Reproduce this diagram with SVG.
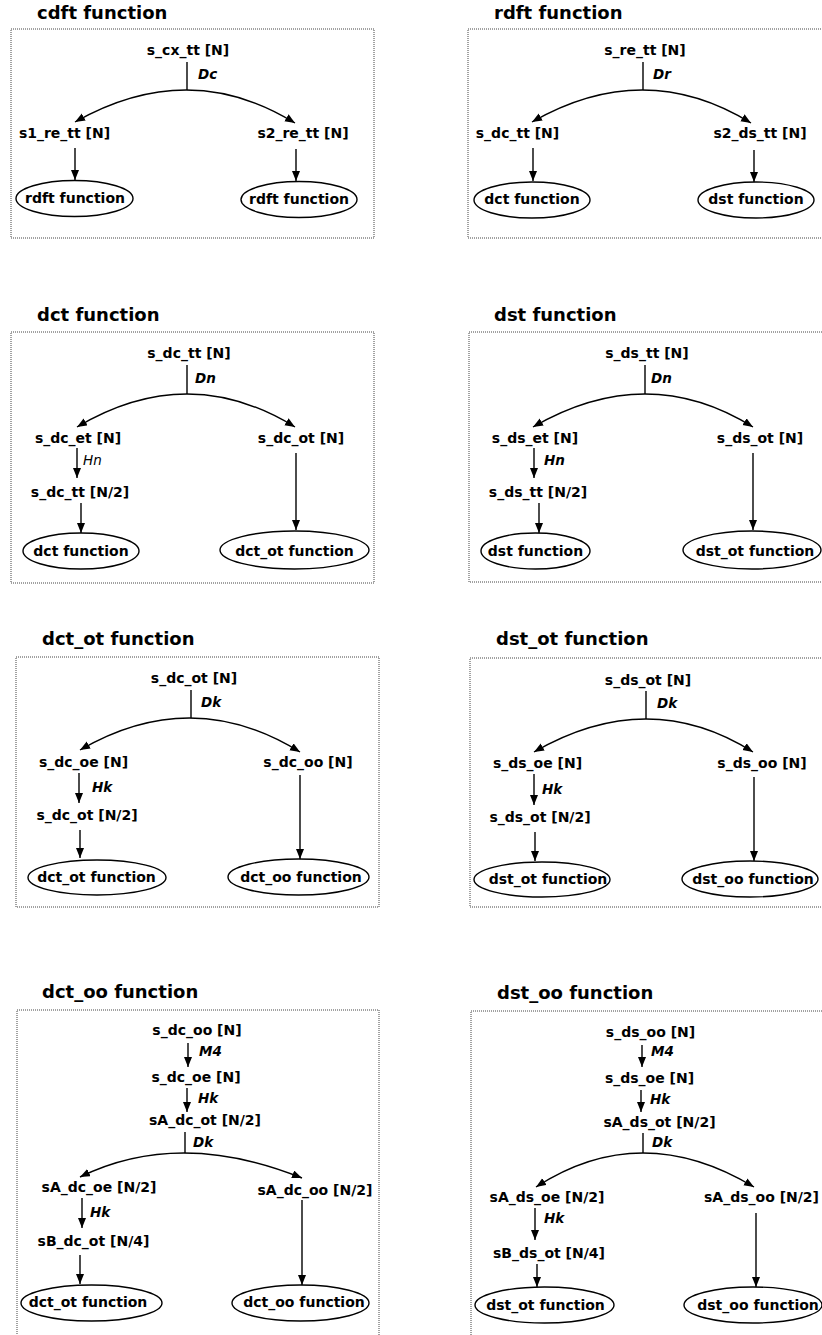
<svg xmlns="http://www.w3.org/2000/svg" width="822" height="1335" viewBox="0 0 822 1335">
<style>
.bg{fill:#fff}
.title{font-family:"DejaVu Sans",sans-serif;font-weight:bold;font-size:18px;fill:#000}
.lbl{font-family:"DejaVu Sans",sans-serif;font-weight:bold;font-size:14px;fill:#000;text-anchor:middle}
.lbls{font-family:"DejaVu Sans",sans-serif;font-weight:bold;font-size:14px;fill:#000}
.op{font-family:"DejaVu Sans",sans-serif;font-weight:bold;font-style:oblique;font-size:13.5px;fill:#000}
.opn{font-family:"DejaVu Sans",sans-serif;font-weight:normal;font-style:oblique;font-size:13.5px;fill:#000}
.box{fill:none;stroke:#444;stroke-width:1;stroke-dasharray:1 1}
.ell{fill:#fff;stroke:#000;stroke-width:1.4}
.ln{fill:none;stroke:#000;stroke-width:1.4}
.arr{fill:none;stroke:#000;stroke-width:1.4;marker-end:url(#ah)}
.arc{fill:none;stroke:#000;stroke-width:1.4;marker-start:url(#ah);marker-end:url(#ah)}
</style>
<defs>
<marker id="ah" markerUnits="userSpaceOnUse" markerWidth="11" markerHeight="9" refX="10" refY="4" orient="auto-start-reverse">
<path d="M0,0 L10,4 L0,8 z" fill="#000"/>
</marker>
</defs>
<rect class="bg" x="0" y="0" width="822" height="1335"/>

<!-- titles and boxes -->
<g id="panel-cdft">
<text class="title" x="37" y="19">cdft function</text>
<rect class="box" x="11" y="29" width="363" height="209"/>
</g>
<g id="panel-rdft">
<text class="title" x="494" y="19">rdft function</text>
<rect class="box" x="468" y="29" width="400" height="209"/>
</g>
<g id="panel-dct">
<text class="title" x="37" y="321">dct function</text>
<rect class="box" x="11" y="332" width="363" height="251"/>
</g>
<g id="panel-dst">
<text class="title" x="494" y="321">dst function</text>
<rect class="box" x="469" y="332" width="400" height="250"/>
</g>
<g id="panel-dct_ot">
<text class="title" x="42" y="645">dct_ot function</text>
<rect class="box" x="16" y="657" width="363" height="250"/>
</g>
<g id="panel-dst_ot">
<text class="title" x="496" y="645">dst_ot function</text>
<rect class="box" x="470" y="658" width="400" height="249"/>
</g>
<g id="panel-dct_oo">
<text class="title" x="42" y="998">dct_oo function</text>
<rect class="box" x="17" y="1010" width="362" height="340"/>
</g>
<g id="panel-dst_oo">
<text class="title" x="497" y="999">dst_oo function</text>
<rect class="box" x="471" y="1011" width="400" height="340"/>
</g>

<!-- connectors -->
<g id="connectors">
<!-- cdft -->
<line class="ln" x1="187" y1="62" x2="187" y2="90"/>
<path class="arc" d="M75,122 Q189,57.5 295,123"/>
<line class="arr" x1="75" y1="148" x2="75" y2="180"/>
<line class="arr" x1="296" y1="149" x2="296" y2="181"/>
<!-- rdft -->
<line class="ln" x1="643" y1="62" x2="643" y2="90"/>
<path class="arc" d="M532,122 Q644.5,57.5 751,123"/>
<line class="arr" x1="533" y1="148" x2="533" y2="181"/>
<line class="arr" x1="754" y1="150" x2="754" y2="182"/>
<!-- dct -->
<line class="ln" x1="187" y1="365" x2="187" y2="394"/>
<path class="arc" d="M77,427 Q188,361 295,427"/>
<line class="arr" x1="77" y1="448" x2="77" y2="478"/>
<line class="arr" x1="81" y1="503" x2="81" y2="533"/>
<line class="arr" x1="296" y1="453" x2="296" y2="530"/>
<!-- dst -->
<line class="ln" x1="645" y1="365" x2="645" y2="394"/>
<path class="arc" d="M533,427 Q647,361 753,427"/>
<line class="arr" x1="534" y1="448" x2="534" y2="478"/>
<line class="arr" x1="539" y1="503" x2="539" y2="533"/>
<line class="arr" x1="753" y1="453" x2="753" y2="530"/>
<!-- dct_ot -->
<line class="ln" x1="191" y1="690" x2="191" y2="718"/>
<path class="arc" d="M80,750 Q192,685 300,752"/>
<line class="arr" x1="79" y1="773" x2="79" y2="803"/>
<line class="arr" x1="80" y1="830" x2="80" y2="858"/>
<line class="arr" x1="300" y1="775" x2="300" y2="859"/>
<!-- dst_ot -->
<line class="ln" x1="646" y1="691" x2="646" y2="719"/>
<path class="arc" d="M534,752 Q648.5,686 753,752"/>
<line class="arr" x1="534" y1="774" x2="534" y2="805"/>
<line class="arr" x1="535" y1="832" x2="535" y2="861"/>
<line class="arr" x1="754" y1="777" x2="754" y2="861"/>
<!-- dct_oo -->
<line class="arr" x1="188" y1="1043" x2="188" y2="1067"/>
<line class="arr" x1="187" y1="1088" x2="187" y2="1112"/>
<line class="ln" x1="185" y1="1132" x2="185" y2="1153"/>
<path class="arc" d="M80,1177 Q179,1128.5 302,1178"/>
<line class="arr" x1="82" y1="1198" x2="82" y2="1228"/>
<line class="arr" x1="80" y1="1255" x2="80" y2="1284"/>
<line class="arr" x1="302" y1="1200" x2="302" y2="1285"/>
<!-- dst_oo -->
<line class="arr" x1="642" y1="1045" x2="642" y2="1067"/>
<line class="arr" x1="641" y1="1090" x2="641" y2="1112"/>
<line class="ln" x1="643" y1="1133" x2="643" y2="1153"/>
<path class="arc" d="M536,1187 Q641,1119 754,1187"/>
<line class="arr" x1="535" y1="1208" x2="535" y2="1240"/>
<line class="arr" x1="537" y1="1264" x2="537" y2="1287"/>
<line class="arr" x1="756" y1="1213" x2="756" y2="1287"/>
</g>

<!-- edge labels -->
<g id="edge-labels">
<text class="op" x="198" y="79">Dc</text>
<text class="op" x="653" y="79">Dr</text>
<text class="op" x="195" y="383">Dn</text>
<text class="opn" x="83" y="465">Hn</text>
<text class="op" x="651" y="383">Dn</text>
<text class="op" x="544" y="465">Hn</text>
<text class="op" x="201" y="707">Dk</text>
<text class="op" x="92" y="792">Hk</text>
<text class="op" x="657" y="708">Dk</text>
<text class="op" x="542" y="794">Hk</text>
<text class="op" x="199" y="1056">M4</text>
<text class="op" x="198" y="1103">Hk</text>
<text class="op" x="193" y="1147">Dk</text>
<text class="op" x="90" y="1217">Hk</text>
<text class="op" x="651" y="1056">M4</text>
<text class="op" x="650" y="1104">Hk</text>
<text class="op" x="652" y="1147">Dk</text>
<text class="op" x="544" y="1223">Hk</text>
</g>

<!-- nodes: cdft -->
<g id="n-s_cx_tt"><text class="lbl" x="188" y="55">s_cx_tt [N]</text></g>
<g id="n-s1_re_tt"><text class="lbl" x="64.5" y="138">s1_re_tt [N]</text></g>
<g id="n-s2_re_tt"><text class="lbl" x="303" y="138">s2_re_tt [N]</text></g>
<g id="n-cdft-rdft1"><ellipse class="ell" cx="74.5" cy="198.5" rx="58.5" ry="18"/><text class="lbl" x="75" y="203">rdft function</text></g>
<g id="n-cdft-rdft2"><ellipse class="ell" cx="299" cy="199.5" rx="58" ry="18"/><text class="lbl" x="299" y="204">rdft function</text></g>

<!-- nodes: rdft -->
<g id="n-s_re_tt"><text class="lbl" x="645" y="55">s_re_tt [N]</text></g>
<g id="n-rdft-s_dc_tt"><text class="lbl" x="517.5" y="138">s_dc_tt [N]</text></g>
<g id="n-s2_ds_tt"><text class="lbl" x="760" y="138">s2_ds_tt [N]</text></g>
<g id="n-rdft-dct"><ellipse class="ell" cx="532" cy="200" rx="58" ry="18"/><text class="lbl" x="532" y="204">dct function</text></g>
<g id="n-rdft-dst"><ellipse class="ell" cx="756" cy="200" rx="58" ry="18"/><text class="lbl" x="756" y="204">dst function</text></g>

<!-- nodes: dct -->
<g id="n-dct-s_dc_tt"><text class="lbl" x="189" y="358">s_dc_tt [N]</text></g>
<g id="n-s_dc_et"><text class="lbl" x="78" y="443">s_dc_et [N]</text></g>
<g id="n-dct-s_dc_ot"><text class="lbl" x="301" y="443">s_dc_ot [N]</text></g>
<g id="n-s_dc_tt2"><text class="lbl" x="80" y="497">s_dc_tt [N/2]</text></g>
<g id="n-dct-dct"><ellipse class="ell" cx="81" cy="551" rx="58" ry="18"/><text class="lbl" x="81" y="556">dct function</text></g>
<g id="n-dct-dct_ot"><ellipse class="ell" cx="294.5" cy="550" rx="74.5" ry="19"/><text class="lbl" x="294.5" y="556">dct_ot function</text></g>

<!-- nodes: dst -->
<g id="n-dst-s_ds_tt"><text class="lbl" x="647" y="358">s_ds_tt [N]</text></g>
<g id="n-s_ds_et"><text class="lbl" x="535" y="443">s_ds_et [N]</text></g>
<g id="n-dst-s_ds_ot"><text class="lbl" x="760" y="443">s_ds_ot [N]</text></g>
<g id="n-s_ds_tt2"><text class="lbl" x="538" y="497">s_ds_tt [N/2]</text></g>
<g id="n-dst-dst"><ellipse class="ell" cx="535.5" cy="551" rx="54.5" ry="18"/><text class="lbl" x="535.5" y="556">dst function</text></g>
<g id="n-dst-dst_ot"><ellipse class="ell" cx="752" cy="550" rx="69" ry="19"/><text class="lbl" x="755" y="556">dst_ot function</text></g>

<!-- nodes: dct_ot -->
<g id="n-dctot-s_dc_ot"><text class="lbl" x="194" y="683">s_dc_ot [N]</text></g>
<g id="n-dctot-s_dc_oe"><text class="lbl" x="83.5" y="767">s_dc_oe [N]</text></g>
<g id="n-dctot-s_dc_oo"><text class="lbl" x="308" y="767">s_dc_oo [N]</text></g>
<g id="n-dctot-s_dc_ot2"><text class="lbl" x="87" y="820">s_dc_ot [N/2]</text></g>
<g id="n-dctot-dct_ot"><ellipse class="ell" cx="97" cy="877.5" rx="69" ry="17.5"/><text class="lbl" x="96.5" y="882">dct_ot function</text></g>
<g id="n-dctot-dct_oo"><ellipse class="ell" cx="298.5" cy="877" rx="70.5" ry="18"/><text class="lbl" x="301" y="882">dct_oo function</text></g>

<!-- nodes: dst_ot -->
<g id="n-dstot-s_ds_ot"><text class="lbl" x="648" y="685">s_ds_ot [N]</text></g>
<g id="n-dstot-s_ds_oe"><text class="lbl" x="537.5" y="768">s_ds_oe [N]</text></g>
<g id="n-dstot-s_ds_oo"><text class="lbl" x="762" y="768">s_ds_oo [N]</text></g>
<g id="n-dstot-s_ds_ot2"><text class="lbl" x="540" y="822">s_ds_ot [N/2]</text></g>
<g id="n-dstot-dst_ot"><ellipse class="ell" cx="542" cy="879.5" rx="68" ry="17.5"/><text class="lbl" x="548" y="884">dst_ot function</text></g>
<g id="n-dstot-dst_oo"><ellipse class="ell" cx="750" cy="879" rx="68" ry="18"/><text class="lbl" x="753" y="884">dst_oo function</text></g>

<!-- nodes: dct_oo -->
<g id="n-dctoo-s_dc_oo"><text class="lbl" x="197" y="1035">s_dc_oo [N]</text></g>
<g id="n-dctoo-s_dc_oe"><text class="lbl" x="196" y="1082">s_dc_oe [N]</text></g>
<g id="n-dctoo-sA_dc_ot"><text class="lbl" x="205" y="1125">sA_dc_ot [N/2]</text></g>
<g id="n-dctoo-sA_dc_oe"><text class="lbl" x="99" y="1192">sA_dc_oe [N/2]</text></g>
<g id="n-dctoo-sA_dc_oo"><text class="lbl" x="315" y="1195">sA_dc_oo [N/2]</text></g>
<g id="n-dctoo-sB_dc_ot"><text class="lbl" x="93.5" y="1246">sB_dc_ot [N/4]</text></g>
<g id="n-dctoo-dct_ot"><ellipse class="ell" cx="91.5" cy="1303" rx="70.5" ry="18"/><text class="lbl" x="88" y="1307">dct_ot function</text></g>
<g id="n-dctoo-dct_oo"><ellipse class="ell" cx="300.5" cy="1303" rx="68.5" ry="18"/><text class="lbl" x="304" y="1307">dct_oo function</text></g>

<!-- nodes: dst_oo -->
<g id="n-dstoo-s_ds_oo"><text class="lbl" x="650.5" y="1037">s_ds_oo [N]</text></g>
<g id="n-dstoo-s_ds_oe"><text class="lbl" x="649.5" y="1083">s_ds_oe [N]</text></g>
<g id="n-dstoo-sA_ds_ot"><text class="lbl" x="659.5" y="1127">sA_ds_ot [N/2]</text></g>
<g id="n-dstoo-sA_ds_oe"><text class="lbl" x="547" y="1202">sA_ds_oe [N/2]</text></g>
<g id="n-dstoo-sA_ds_oo"><text class="lbls" x="704" y="1202">sA_ds_oo [N/2]</text></g>
<g id="n-dstoo-sB_ds_ot"><text class="lbl" x="549" y="1258">sB_ds_ot [N/4]</text></g>
<g id="n-dstoo-dst_ot"><ellipse class="ell" cx="544.5" cy="1305" rx="69.5" ry="18"/><text class="lbl" x="545.5" y="1310">dst_ot function</text></g>
<g id="n-dstoo-dst_oo"><ellipse class="ell" cx="753" cy="1305" rx="69" ry="18"/><text class="lbl" x="758" y="1310">dst_oo function</text></g>
</svg>
